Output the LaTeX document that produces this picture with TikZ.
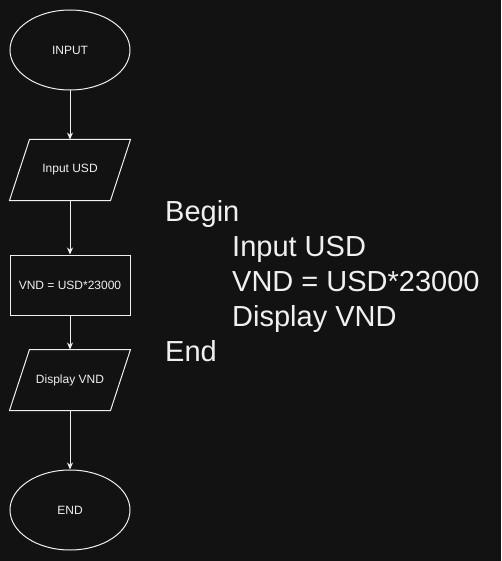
\documentclass[tikz,border=0pt]{standalone}
\usepackage{fontspec}
\setmainfont{Liberation Sans}
\usetikzlibrary{shapes.geometric,arrows.meta}
\definecolor{bg}{RGB}{18,18,18}
\definecolor{fg}{RGB}{240,240,240}
\tikzset{
  shp/.style={line width=1pt,text=fg,font=\fontsize{12}{14}\selectfont,inner sep=0pt},
  term/.style={shp,draw=fg,ellipse,minimum width=120pt,minimum height=80pt},
  io/.style={shp,rectangle,minimum width=120pt,minimum height=60pt},
  proc/.style={shp,draw=fg,rectangle,minimum width=120pt,minimum height=60pt},
  para/.style={draw=fg,line width=1pt,line join=miter},
  conn/.style={draw=fg,line width=1pt,-{Stealth[length=7pt,width=6pt]}},
  pseudo/.style={text=fg,font=\fontsize{29}{33}\selectfont,anchor=base west,inner sep=0pt}
}
\begin{document}
\begin{tikzpicture}[x=1pt,y=-1pt]
\fill[bg] (0,0) rectangle (501,561);
\useasboundingbox (0,0) rectangle (501,561);
\node[term] (start) at (70,50) {INPUT};
\node[io] (in) at (70,170) {Input USD};
\node[proc] (calc) at (70,285) {VND = USD*23000};
\node[io] (out) at (70,380) {Display VND};
\node[term] (stop) at (70,510) {END};
\draw[para] ([xshift=20pt]in.north west) -- (in.north east) -- ([xshift=-20pt]in.south east) -- (in.south west) -- cycle;
\draw[para] ([xshift=20pt]out.north west) -- (out.north east) -- ([xshift=-20pt]out.south east) -- (out.south west) -- cycle;
\draw[conn] (start) -- (in);
\draw[conn] (in) -- (calc);
\draw[conn] (calc) -- (out);
\draw[conn] (out) -- (stop);
\node[pseudo] (l1) at (165,221) {Begin};
\node[pseudo] (l2) at (232,256) {Input USD};
\node[pseudo] (l3) at (232,291) {VND = USD*23000};
\node[pseudo] (l4) at (232,326) {Display VND};
\node[pseudo] (l5) at (165,361) {End};
\end{tikzpicture}
\end{document}
